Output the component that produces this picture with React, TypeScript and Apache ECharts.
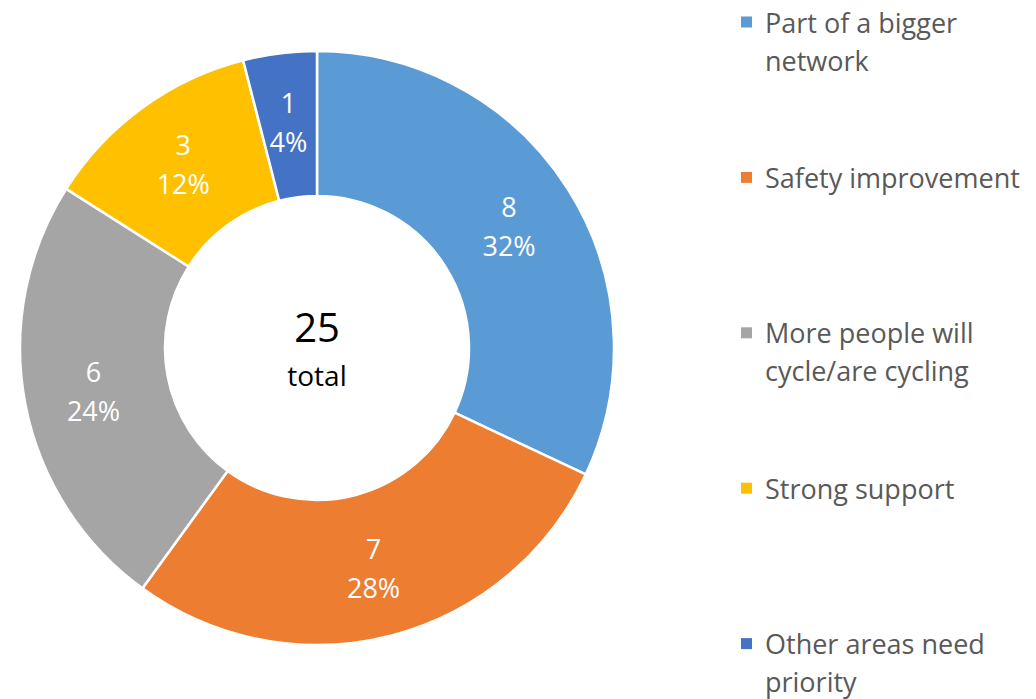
import React, { useEffect, useRef } from "react";
import * as echarts from "echarts";

const categories = [
  "Part of a bigger network",
  "Safety improvement",
  "More people will cycle/are cycling",
  "Strong support",
  "Other areas need priority",
];
const legendLines = [
  ["Part of a bigger", "network"],
  ["Safety improvement"],
  ["More people will", "cycle/are cycling"],
  ["Strong support"],
  ["Other areas need", "priority"],
];
const values = [8, 7, 6, 3, 1];
const colors = ["#5B9BD5", "#ED7D31", "#A5A5A5", "#FFC000", "#4472C4"];
const totalLabel = "total";

const FONT = "'Open Sans', Lato, sans-serif";

export default function App() {
  const ref = useRef<HTMLDivElement>(null);
  useEffect(() => {
    if (!ref.current) return;
    const chart = echarts.init(ref.current, undefined, { renderer: "svg" });
    const total = values.reduce((a, b) => a + b, 0);
    const legendGraphics: any[] = [];
    legendLines.forEach((lines, i) => {
      const y0 = 22 + i * 155.4;
      legendGraphics.push({
        type: "rect",
        shape: { x: 741, y: y0 - 5.5, width: 11, height: 11 },
        style: { fill: colors[i] },
      });
      lines.forEach((ln, j) => {
        legendGraphics.push({
          type: "text",
          x: 765,
          y: y0 + j * 38,
          style: {
            text: ln,
            fill: "#595959",
            font: `27px ${FONT}`,
            textVerticalAlign: "middle",
            textAlign: "left",
          },
        });
      });
    });
    chart.setOption({
      animation: false,
      backgroundColor: "#ffffff",
      graphic: [
        ...legendGraphics,
        {
          type: "text",
          x: 317,
          y: 326,
          style: {
            text: String(total),
            fill: "#000000",
            font: `40px ${FONT}`,
            textAlign: "center",
            textVerticalAlign: "middle",
          },
        },
        {
          type: "text",
          x: 317,
          y: 375,
          style: {
            text: totalLabel,
            fill: "#000000",
            font: `28px ${FONT}`,
            textAlign: "center",
            textVerticalAlign: "middle",
          },
        },
      ],
      series: [
        {
          type: "pie",
          center: [317, 348],
          radius: [152, 297],
          startAngle: 90,
          clockwise: true,
          avoidLabelOverlap: false,
          itemStyle: { borderColor: "#ffffff", borderWidth: 2.5 },
          label: {
            show: true,
            position: "inside",
            color: "#ffffff",
            fontFamily: FONT,
            fontSize: 27,
            lineHeight: 39,
            formatter: (p: any) => `${p.value}\n${Math.round(p.percent)}%`,
          },
          labelLine: { show: false },
          emphasis: { disabled: true },
          data: categories.map((c, i) => ({
            name: c,
            value: values[i],
            itemStyle: { color: colors[i] },
          })),
        },
      ],
    });
    return () => chart.dispose();
  }, []);
  return (
    <div
      ref={ref}
      style={{ position: "fixed", left: 0, top: 0, width: 1036, height: 699 }}
    />
  );
}
